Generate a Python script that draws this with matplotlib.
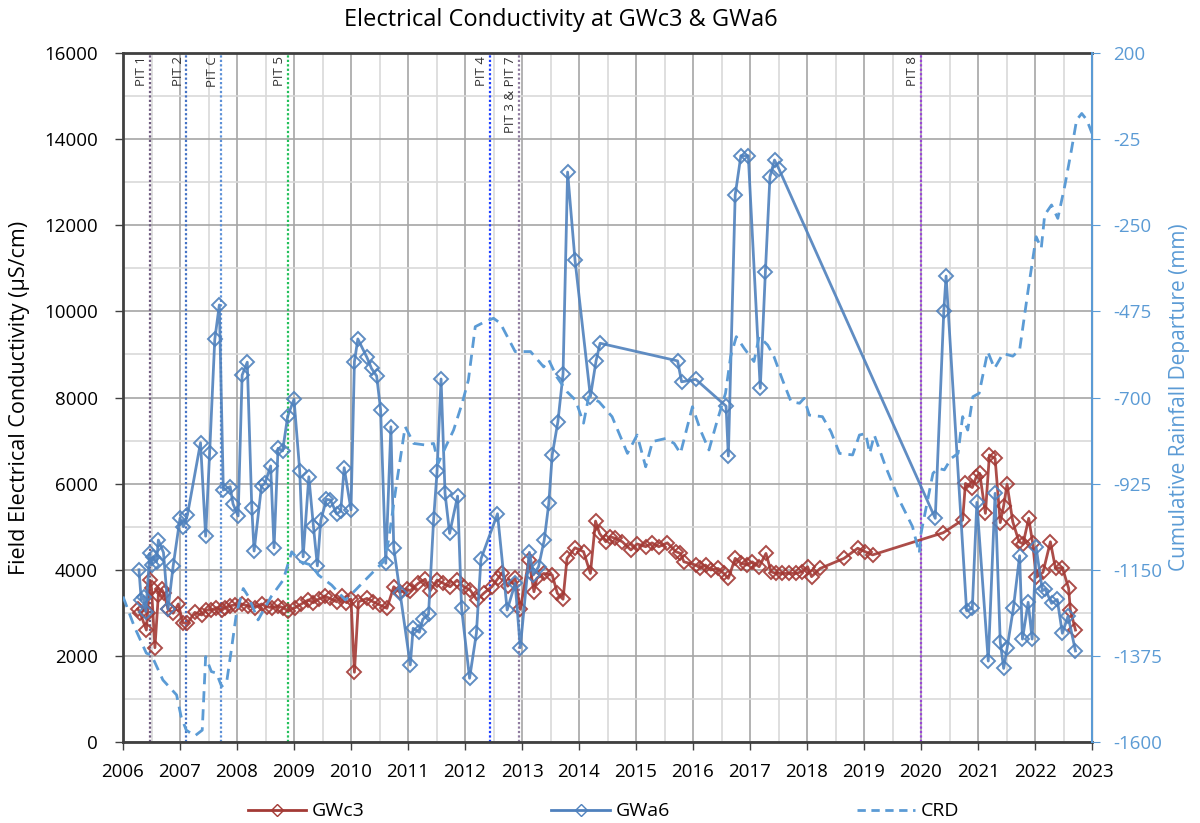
import matplotlib
matplotlib.use("Agg")
import matplotlib.pyplot as plt
from matplotlib.lines import Line2D
from matplotlib.ticker import MultipleLocator

plt.rcParams["font.family"] = ["Open Sans", "DejaVu Sans"]
plt.rcParams["axes.unicode_minus"] = False

# GWc3 field EC (uS/cm)
gwc3_year = [
    2006.26, 2006.30, 2006.41, 2006.43, 2006.47, 2006.50, 2006.56, 2006.62, 2006.68, 2006.72,
    2006.79, 2006.88, 2006.97, 2007.05, 2007.13, 2007.26, 2007.38, 2007.46, 2007.55, 2007.64,
    2007.74, 2007.79, 2007.88, 2007.96, 2008.08, 2008.20, 2008.31, 2008.43, 2008.52, 2008.62,
    2008.72, 2008.81, 2008.90, 2009.02, 2009.13, 2009.25, 2009.34, 2009.43, 2009.54, 2009.63,
    2009.75, 2009.84, 2009.92, 2010.00, 2010.06, 2010.13, 2010.28, 2010.39, 2010.51, 2010.63,
    2010.75, 2010.86, 2010.98, 2011.04, 2011.18, 2011.30, 2011.39, 2011.51, 2011.62, 2011.74,
    2011.86, 2011.98, 2012.09, 2012.21, 2012.33, 2012.47, 2012.58, 2012.65, 2012.75, 2012.88,
    2012.97, 2013.12, 2013.21, 2013.26, 2013.38, 2013.53, 2013.62, 2013.72, 2013.79, 2013.93,
    2014.08, 2014.20, 2014.29, 2014.36, 2014.47, 2014.55, 2014.64, 2014.76, 2014.91, 2015.02,
    2015.17, 2015.28, 2015.40, 2015.55, 2015.70, 2015.78, 2015.84, 2016.05, 2016.13, 2016.22,
    2016.31, 2016.44, 2016.54, 2016.62, 2016.74, 2016.84, 2016.95, 2017.04, 2017.16, 2017.28,
    2017.37, 2017.45, 2017.57, 2017.69, 2017.80, 2017.92, 2018.01, 2018.08, 2018.23, 2018.65,
    2018.89, 2019.02, 2019.15, 2020.39, 2020.73, 2020.78, 2020.90, 2020.97, 2021.03, 2021.13,
    2021.20, 2021.30, 2021.39, 2021.45, 2021.51, 2021.61, 2021.72, 2021.79, 2021.89, 2021.96,
    2022.02, 2022.14, 2022.27, 2022.36, 2022.48, 2022.59, 2022.62, 2022.71,
]
gwc3_ec = [
    3090, 3000, 2600, 2990, 3760, 3570, 2190, 3410, 3545, 3450,
    3090, 2990, 3205, 2770, 2755, 3010, 2950, 3065, 3065, 3120,
    3065, 3120, 3165, 3180, 3205, 3160, 3120, 3205, 3140, 3120,
    3160, 3120, 3040, 3120, 3205, 3300, 3235, 3315, 3390, 3335,
    3255, 3390, 3235, 3315, 1620, 3255, 3335, 3255, 3180, 3105,
    3605, 3475, 3545, 3515, 3685, 3780, 3515, 3760, 3685, 3605,
    3760, 3605, 3530, 3300, 3455, 3605, 3800, 3930, 3620, 3800,
    3080, 4225, 3490, 3800, 3915, 3880, 3455, 3315, 4265, 4510,
    4420, 3915, 5130, 4845, 4650, 4765, 4730, 4650, 4460, 4600,
    4535, 4625, 4535, 4625, 4420, 4380, 4185, 4110, 4030, 4110,
    3995, 4030, 3915, 3800, 4265, 4150, 4110, 4185, 4070, 4380,
    3955, 3915, 3915, 3915, 3915, 3955, 4070, 3840, 4030, 4265,
    4500, 4420, 4345, 4860, 5155, 6005, 5910, 6160, 6240, 5310,
    6665, 6585, 5095, 5485, 5985, 5115, 4650, 4600, 5195, 4610,
    3825, 3940, 4650, 4030, 4050, 3570, 3065, 2600,
]

# GWa6 field EC (uS/cm)
gwa6_year = [
    2006.28, 2006.32, 2006.36, 2006.40, 2006.47, 2006.50, 2006.53, 2006.59, 2006.62, 2006.71,
    2006.79, 2006.88, 2007.00, 2007.06, 2007.13, 2007.36, 2007.45, 2007.52, 2007.61, 2007.69,
    2007.76, 2007.88, 2007.93, 2008.02, 2008.09, 2008.18, 2008.26, 2008.30, 2008.43, 2008.49,
    2008.59, 2008.65, 2008.72, 2008.80, 2008.89, 2009.00, 2009.10, 2009.16, 2009.26, 2009.34,
    2009.41, 2009.47, 2009.57, 2009.64, 2009.75, 2009.82, 2009.88, 2010.00, 2010.06, 2010.12,
    2010.28, 2010.36, 2010.45, 2010.52, 2010.61, 2010.70, 2010.75, 2010.86, 2011.04, 2011.09,
    2011.20, 2011.26, 2011.36, 2011.45, 2011.51, 2011.58, 2011.65, 2011.73, 2011.87, 2011.94,
    2012.08, 2012.20, 2012.28, 2012.57, 2012.74, 2012.88, 2012.97, 2013.13, 2013.20, 2013.29,
    2013.39, 2013.47, 2013.53, 2013.63, 2013.72, 2013.80, 2013.93, 2014.20, 2014.30, 2014.37,
    2015.73, 2015.80, 2016.05, 2016.58, 2016.62, 2016.74, 2016.84, 2016.97, 2017.18, 2017.27,
    2017.35, 2017.43, 2017.51, 2020.25, 2020.40, 2020.44, 2020.80, 2020.90, 2020.98, 2021.18,
    2021.30, 2021.39, 2021.45, 2021.51, 2021.62, 2021.73, 2021.78, 2021.88, 2021.95, 2022.02,
    2022.13, 2022.18, 2022.29, 2022.39, 2022.48, 2022.58, 2022.71,
]
gwa6_ec = [
    4000, 3300, 3375, 3030, 4380, 4110, 4300, 4190, 4690, 4400,
    3080, 4090, 5195, 5000, 5270, 6950, 4780, 6720, 9350, 10150,
    5850, 5930, 5530, 5250, 8520, 8820, 5425, 4435, 5945, 6005,
    6410, 4510, 6820, 6760, 7570, 7960, 6300, 4300, 6160, 5020,
    4090, 5150, 5635, 5620, 5295, 5365, 6370, 5390, 8830, 9360,
    8930, 8675, 8500, 7710, 4150, 7320, 4510, 3465, 1790, 2640,
    2550, 2850, 2965, 5180, 6290, 8430, 5775, 4845, 5710, 3105,
    1480, 2525, 4250, 5300, 3065, 3685, 2190, 4405, 3880, 4070,
    4690, 5540, 6665, 7440, 8545, 13235, 11190, 8020, 8855, 9260,
    8850, 8365, 8420, 7800, 6640, 12700, 13615, 13615, 8215, 10920,
    13125, 13515, 13300, 5195, 10010, 10820, 3050, 3105, 5565, 1880,
    5775, 2330, 1710, 2175, 3105, 4325, 2390, 3245, 2390, 4520,
    3515, 3550, 3220, 3310, 2525, 2925, 2115,
]

# Cumulative rainfall departure (mm)
crd_year = [
    2006.00, 2006.20, 2006.41, 2006.50, 2006.70, 2006.94, 2007.02, 2007.11, 2007.26, 2007.39,
    2007.45, 2007.55, 2007.64, 2007.73, 2007.82, 2007.90, 2007.99, 2008.11, 2008.20, 2008.37,
    2008.60, 2008.81, 2008.96, 2009.11, 2009.31, 2009.43, 2009.66, 2009.90, 2010.02, 2010.19,
    2010.42, 2010.57, 2010.66, 2010.80, 2010.95, 2011.10, 2011.30, 2011.45, 2011.53, 2011.66,
    2011.80, 2011.95, 2012.06, 2012.18, 2012.35, 2012.50, 2012.62, 2012.88, 2013.15, 2013.38,
    2013.47, 2013.61, 2013.79, 2013.94, 2014.08, 2014.17, 2014.35, 2014.58, 2014.85, 2015.02,
    2015.17, 2015.29, 2015.52, 2015.67, 2015.78, 2015.99, 2016.13, 2016.28, 2016.42, 2016.57,
    2016.66, 2016.76, 2016.90, 2017.07, 2017.16, 2017.31, 2017.42, 2017.57, 2017.72, 2017.87,
    2017.95, 2018.04, 2018.27, 2018.42, 2018.57, 2018.80, 2018.92, 2019.03, 2019.10, 2019.18,
    2019.38, 2019.62, 2019.85, 2019.97, 2020.00, 2020.21, 2020.30, 2020.41, 2020.53, 2020.65,
    2020.73, 2020.82, 2020.91, 2021.02, 2021.17, 2021.29, 2021.44, 2021.61, 2021.73, 2021.88,
    2022.02, 2022.11, 2022.17, 2022.29, 2022.40, 2022.52, 2022.64, 2022.73, 2022.82, 2022.91,
    2023.00,
]
crd_mm = [
    -1220, -1299, -1368, -1373, -1438, -1477, -1534, -1569, -1584, -1569,
    -1377, -1416, -1420, -1455, -1442, -1360, -1264, -1199, -1220, -1281,
    -1220, -1177, -1103, -1129, -1138, -1164, -1190, -1229, -1212, -1186,
    -1151, -1129, -1072, -924, -776, -820, -824, -820, -872, -829,
    -785, -715, -654, -515, -502, -493, -506, -580, -580, -620,
    -602, -646, -685, -707, -767, -698, -711, -750, -846, -798,
    -881, -815, -807, -820, -846, -724, -785, -837, -763, -689,
    -593, -541, -572, -606, -541, -563, -593, -654, -711, -715,
    -702, -746, -750, -789, -846, -850, -798, -794, -846, -798,
    -881, -968, -1037, -1107, -1055, -898, -885, -889, -859, -846,
    -750, -785, -698, -689, -580, -624, -585, -592, -576, -419,
    -280, -310, -223, -197, -232, -149, -53, 25, 42, 25,
    -10,
]

# pit events: date, label, line colour
pit_year = [2006.47, 2007.11, 2007.72, 2008.89, 2012.44, 2012.95, 2020.00]
pit_label = ["PIT 1", "PIT 2", "PIT C", "PIT 5", "PIT 4", "PIT 3 & PIT 7", "PIT 8"]
pit_color = ["#6e5a7e", "#4472c4", "#5b8fd6", "#22c05a", "#1a3cff", "#8e7a9e", "#9a44d8"]

red = "#a33a35"
blue = "#4f81bd"
light_blue = "#5b9bd5"

fig = plt.figure(figsize=(12, 8.23), dpi=100)
ax = fig.add_axes([0.1025, 0.0984, 0.8075, 0.8372])
ax2 = ax.twinx()

ax.set_xlim(2006, 2023)
ax.set_ylim(0, 16000)
ax2.set_ylim(-1600, 200)

ax.xaxis.set_minor_locator(MultipleLocator(0.5))
ax.yaxis.set_major_locator(MultipleLocator(2000))
ax.yaxis.set_minor_locator(MultipleLocator(1000))
ax.set_xticks(range(2006, 2024))
ax.set_xticklabels([str(y) for y in range(2006, 2024)])
ax2.set_yticks(list(range(-1600, 201, 225)))

ax.grid(True, which="minor", color="#d9d9d9", lw=1.2, zorder=0)
ax.grid(True, which="major", color="#a6a6a6", lw=1.2, zorder=0)
ax.set_axisbelow(True)

for x, lab, c in zip(pit_year, pit_label, pit_color):
    ax.axvline(x, color=c, lw=1.6, ls=(0, (1, 1)), zorder=2)
    ax.text(x - 0.03, 15930, lab, rotation=90, ha="right", va="top",
            fontsize=9.5, color="#333333", zorder=3)

ax.plot(gwc3_year, gwc3_ec, color=red, lw=2, marker="D", ms=7, mfc="none",
        mec=red, mew=1.4, zorder=4, alpha=0.9)
ax.plot(gwa6_year, gwa6_ec, color=blue, lw=2, marker="D", ms=7, mfc="none",
        mec=blue, mew=1.4, zorder=5, alpha=0.9)
ax2.plot(crd_year, crd_mm, color=light_blue, lw=2, ls=(0, (4, 2.5)), zorder=3)

ax.tick_params(axis="both", which="major", labelsize=13.5, length=6, width=1, color="#404040")
ax.tick_params(axis="both", which="minor", length=0)
ax.tick_params(axis="x", pad=9)
ax.tick_params(axis="y", pad=12)
ax2.tick_params(axis="y", labelsize=13.5, length=6, color=light_blue, labelcolor=light_blue, pad=9)

for side in ["left", "bottom", "top"]:
    ax.spines[side].set_color("#404040")
    ax.spines[side].set_linewidth(2)
ax2.spines["right"].set_color(light_blue)
ax2.spines["right"].set_linewidth(1.5)
for side in ["left", "bottom", "top"]:
    ax2.spines[side].set_visible(False)

ax.set_ylabel("Field Electrical Conductivity (µS/cm)", fontsize=15.5, labelpad=10)
ax2.set_ylabel("Cumulative Rainfall Departure (mm)", fontsize=15, color=light_blue, labelpad=5)
fig.text(0.467, 0.976, "Electrical Conductivity at GWc3 & GWa6", ha="center", va="center", fontsize=17)

handles = [
    Line2D([], [], color=red, lw=2, marker="D", ms=6, mfc="none", mec=red),
    Line2D([], [], color=blue, lw=2, marker="D", ms=6, mfc="none", mec=blue),
    Line2D([], [], color=light_blue, lw=2, ls=(0, (3, 2))),
]
fig.legend(handles, ["GWc3", "GWa6", "CRD"], loc="lower center", bbox_to_anchor=(0.503, -0.018),
           ncol=3, frameon=False, fontsize=14, handlelength=3.0, columnspacing=9.6, handletextpad=0.3)

fig.savefig("out.png", dpi=100)
